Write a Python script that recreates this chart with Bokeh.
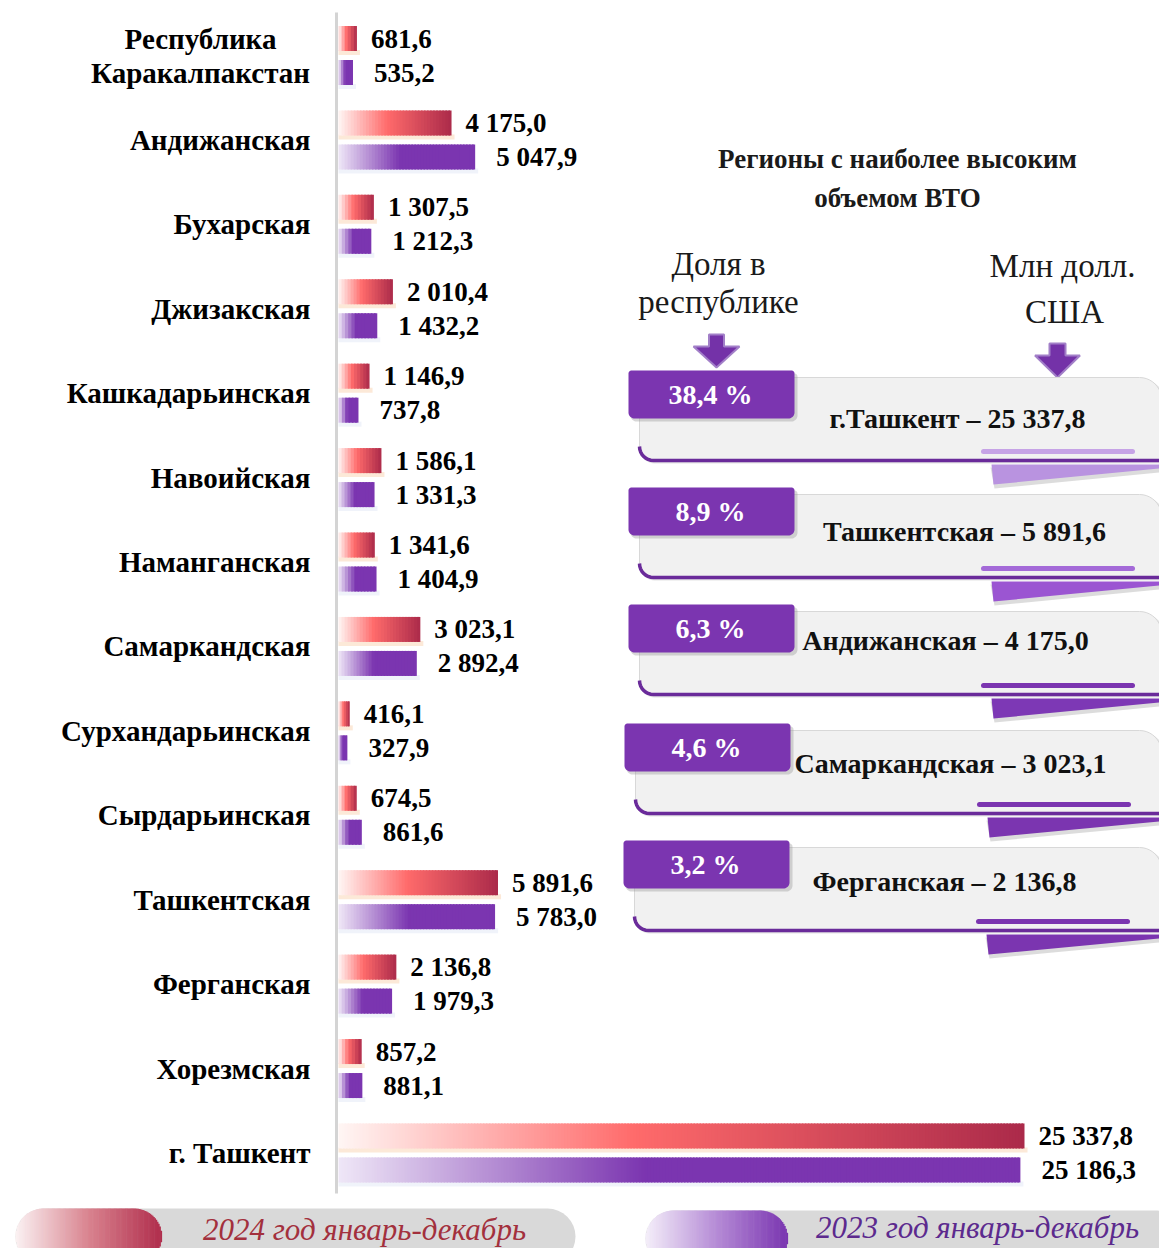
import math
from bokeh.plotting import figure
from bokeh.models import Range1d, ColumnDataSource
from bokeh.core.properties import value
from bokeh.embed import file_html
from bokeh.resources import INLINE

# ---------------- data ----------------
regions = ["Республика\nКаракалпакстан", "Андижанская", "Бухарская", "Джизакская",
           "Кашкадарьинская", "Навоийская", "Наманганская", "Самаркандская",
           "Сурхандарьинская", "Сырдарьинская", "Ташкентская", "Ферганская",
           "Хорезмская", "г. Ташкент"]
v2024 = [681.6, 4175.0, 1307.5, 2010.4, 1146.9, 1586.1, 1341.6, 3023.1,
         416.1, 674.5, 5891.6, 2136.8, 857.2, 25337.8]
v2023 = [535.2, 5047.9, 1212.3, 1432.2, 737.8, 1331.3, 1404.9, 2892.4,
         327.9, 861.6, 5783.0, 1979.3, 881.1, 25186.3]

top_regions = ["г.Ташкент", "Ташкентская", "Андижанская", "Самаркандская", "Ферганская"]
top_values = [25337.8, 5891.6, 4175.0, 3023.1, 2136.8]
top_shares = [38.4, 8.9, 6.3, 4.6, 3.2]

panel_title = ["Регионы с наиболее высоким", "объемом ВТО"]
share_header = ["Доля в", "республике"]
value_header = ["Млн долл.", "США"]
legend_labels = ["2024 год январь-декабрь", "2023 год январь-декабрь"]


def fmt(v):
    return f"{v:,.1f}".replace(",", " ").replace(".", ",")


# ---------------- layout ----------------
W, H = 1159, 1248
FONT = value("Liberation Serif")


def X(r):
    return r


def Y(r):
    return r


ZERO = X(338)
PPU = 686.0 / 25337.8  # pixels per value unit

p = figure(width=W, height=H,
           x_range=Range1d(-ZERO / PPU, (W - ZERO) / PPU),
           y_range=Range1d(H, 0),
           output_backend="svg", toolbar_location=None, min_border=0,
           x_axis_location=None, y_axis_location=None,
           outline_line_color=None, background_fill_color="white",
           border_fill_color="white")
p.grid.visible = False
p.extra_x_ranges = {"px": Range1d(0, W)}


def hex2rgb(h):
    h = h.lstrip("#")
    return tuple(int(h[i:i + 2], 16) for i in (0, 2, 4))


def grad(stops, t):
    for (p0, c0), (p1, c1) in zip(stops[:-1], stops[1:]):
        if t <= p1:
            u = (t - p0) / (p1 - p0) if p1 > p0 else 0
            a, b = hex2rgb(c0), hex2rgb(c1)
            return "#%02x%02x%02x" % tuple(int(round(a[k] + (b[k] - a[k]) * u)) for k in range(3))
    return stops[-1][1]


RED = [(0, "#fff6f4"), (0.43, "#ff6b6b"), (1, "#ab2a4a")]
PUR = [(0, "#efe7f7"), (0.45, "#7b35b0"), (1, "#7b35b0")]

ROW0, ROWSTEP = 55.0, 84.42
rows = [ROW0 + ROWSTEP * i for i in range(len(regions))]
HALF = 12.5
DY = 17


def bar_slices(vals, ycs, stops):
    L, R, T, B, C = [], [], [], [], []
    for v, yc in zip(vals, ycs):
        n = max(6, int(v * PPU / 3))
        for j in range(n):
            L.append(v * j / n)
            R.append(min(v, v * (j + 1.5) / n))
            T.append(Y(yc - HALF))
            B.append(Y(yc + HALF))
            C.append(grad(stops, (j + 0.5) / n))
    return dict(left=L, right=R, top=T, bottom=B, color=C)


# axis line
p.segment(x0=[X(336)], y0=[Y(12)], x1=[X(336)], y1=[Y(1193)],
          line_color="#d4d4d4", line_width=3, x_range_name="px")

red_y = [r - DY for r in rows]
pur_y = [r + DY for r in rows]

# soft shadows under bars
p.quad(left=[0] * len(v2024), right=[v + 3 / PPU for v in v2024],
       top=[Y(y + HALF - 1) for y in red_y], bottom=[Y(y + HALF + 4) for y in red_y],
       fill_color="#fbe0c8", fill_alpha=0.7, line_color=None)
p.quad(left=[0] * len(v2023), right=[v + 3 / PPU for v in v2023],
       top=[Y(y + HALF - 1) for y in pur_y], bottom=[Y(y + HALF + 4) for y in pur_y],
       fill_color="#eef2f9", fill_alpha=0.9, line_color=None)

p.quad(left="left", right="right", top="top", bottom="bottom", fill_color="color",
       line_color=None, source=ColumnDataSource(bar_slices(v2024, red_y, RED)))
p.quad(left="left", right="right", top="top", bottom="bottom", fill_color="color",
       line_color=None, source=ColumnDataSource(bar_slices(v2023, pur_y, PUR)))

# value labels
p.text(x=[v + 14 / PPU for v in v2024], y=[Y(y) for y in red_y], text=[fmt(v) for v in v2024],
       text_font=FONT, text_font_style="bold", text_font_size="27px",
       text_baseline="middle", text_align="left", text_color="black")
p.text(x=[v + 21 / PPU for v in v2023], y=[Y(y) for y in pur_y], text=[fmt(v) for v in v2023],
       text_font=FONT, text_font_style="bold", text_font_size="27px",
       text_baseline="middle", text_align="left", text_color="black")

# category labels (multi-line labels are split into centred lines)
LINE = 34
cx, cy, ct, ca = [], [], [], []
for r, yc in zip(regions, rows):
    parts = r.split("\n")
    for k, part in enumerate(parts):
        cx.append(X(200) if len(parts) > 1 else X(310))
        cy.append(Y(yc + (k - (len(parts) - 1) / 2) * LINE))
        ct.append(part)
        ca.append("center" if len(parts) > 1 else "right")
p.text(x="x", y="y", text="text", text_align="align", x_range_name="px",
       source=ColumnDataSource(dict(x=cx, y=cy, text=ct, align=ca)),
       text_font=FONT, text_font_style="bold", text_font_size="29px",
       text_baseline="middle", text_color="black")


# ---------------- right panel ----------------
def arc(cx, cy, r, a0, a1, n=10):
    return [(cx + r * math.cos(math.radians(a0 + (a1 - a0) * k / n)),
             cy + r * math.sin(math.radians(a0 + (a1 - a0) * k / n))) for k in range(n + 1)]


def round_rect(x0, x1, y0, y1, rtl=0, rtr=0, rbr=0, rbl=0):
    pts = []
    pts += arc(x1 - rtr, y0 + rtr, rtr, -90, 0)
    pts += arc(x1 - rbr, y1 - rbr, rbr, 0, 90)
    pts += arc(x0 + rbl, y1 - rbl, rbl, 90, 180)
    pts += arc(x0 + rtl, y0 + rtl, rtl, 180, 270)
    return [X(a) for a, b in pts], [Y(b) for a, b in pts]


# panel title & headers
p.text(x=[X(897)] * 2, y=[Y(158), Y(197)], text=panel_title, x_range_name="px",
       text_font=FONT, text_font_style="bold", text_font_size="27px",
       text_align="center", text_baseline="middle", text_color="#1a1a1a")
p.text(x=[X(718)] * 2, y=[Y(263), Y(301)], text=share_header, x_range_name="px",
       text_font=FONT, text_font_size="33px",
       text_align="center", text_baseline="middle", text_color="#1a1a1a")
p.text(x=[X(1062), X(1064)], y=[Y(265), Y(311)], text=value_header, x_range_name="px",
       text_font=FONT, text_font_size="33px",
       text_align="center", text_baseline="middle", text_color="#1a1a1a")


def arrow(cx, top, sw, hw, sh, hh):
    pts = [(cx - sw / 2, top), (cx + sw / 2, top), (cx + sw / 2, top + sh), (cx + hw / 2, top + sh),
           (cx, top + sh + hh), (cx - hw / 2, top + sh), (cx - sw / 2, top + sh)]
    return [X(a) for a, b in pts], [Y(b) for a, b in pts]


ax1, ay1 = arrow(716, 334, 15, 46, 12, 21)
ax2, ay2 = arrow(1057, 343, 16, 45, 12, 22)
p.patches(xs=[ax1, ax2], ys=[ay1, ay2], fill_color="#7432a8", line_color="#a27fc8",
          line_width=2, x_range_name="px")

# ribbons
rib_L = [628, 628, 628, 624, 623]
rib_T = [370, 487, 604, 723, 840]
rib_text_x = [957, 964, 945, 950, 944]
rib_text_y = [418, 531, 640, 763, 881]
fold_col = ["#b993e0", "#9b55d2", "#7d38b5", "#7b35b0", "#7b35b0"]
under_col = ["#c6a3e6", "#a46ad8", "#7b35b0", "#7b35b0", "#7b35b0"]

for i in range(len(top_regions)):
    L, T = rib_L[i], rib_T[i]
    # fold shadow and fold
    fx = [X(L + 362), X(1170), X(1170), X(L + 366)]
    p.patch(x=fx, y=[Y(T + 97), Y(T + 97), Y(T + 101), Y(T + 118)], fill_color="#9a9a9a",
            fill_alpha=0.35, line_color=None, x_range_name="px")
    p.patch(x=[X(L + 363), X(1170), X(1170), X(L + 365)],
            y=[Y(T + 94), Y(T + 94), Y(T + 97), Y(T + 114)],
            fill_color=fold_col[i], line_color=None, x_range_name="px")
    # panel shadow + panel
    sx, sy = round_rect(L + 12, 1164, T + 9, T + 93, 0, 22, 0, 14)
    p.patch(x=sx, y=sy, fill_color="#c8c8c8", fill_alpha=0.5, line_color=None, x_range_name="px")
    px_, py_ = round_rect(L + 11, 1161, T + 7, T + 90, 0, 22, 0, 14)
    p.patch(x=px_, y=py_, fill_color="#f1f1f1", line_color="#d8d8d8", line_width=1,
            x_range_name="px")
    # purple bottom edge
    edge = arc(L + 25, T + 76, 14, 180, 90, 8)
    ex = [X(a) for a, b in edge] + [X(1172)]
    ey = [Y(b) for a, b in edge] + [Y(T + 90)]
    p.line(x=ex, y=ey, line_color="#6a2b9a", line_width=3.5, x_range_name="px")
    # underline
    p.line(x=[X(L + 355), X(L + 504)], y=[Y(T + 81)] * 2, line_color=under_col[i],
           line_width=5, line_cap="round", x_range_name="px")
    # tab shadow + tab
    tx, ty = round_rect(L + 2, L + 169, T + 3, T + 51, 3, 3, 6, 6)
    p.patch(x=tx, y=ty, fill_color="#9c9c9c", fill_alpha=0.4, line_color=None, x_range_name="px")
    tx, ty = round_rect(L, L + 166, T, T + 48, 3, 3, 6, 6)
    p.patch(x=tx, y=ty, fill_color="#7b35b0", line_color=None, x_range_name="px")

p.text(x=[X(L + 82) for L in rib_L], y=[Y(T + 24) for T in rib_T],
       text=[f"{s:.1f}".replace(".", ",") + " %" for s in top_shares], x_range_name="px",
       text_font=FONT, text_font_style="bold", text_font_size="28px",
       text_align="center", text_baseline="middle", text_color="white")
p.text(x=[X(v) for v in rib_text_x], y=[Y(v) for v in rib_text_y],
       text=[f"{r} – {fmt(v)}" for r, v in zip(top_regions, top_values)], x_range_name="px",
       text_font=FONT, text_font_style="bold", text_font_size="28px",
       text_align="center", text_baseline="middle", text_color="#111111")


# ---------------- legend ----------------
def pill(x0, x1, yc, h, n=16):
    r = h / 2
    pts = arc(x1 - r, yc, r, -90, 90, n) + arc(x0 + r, yc, r, 90, 270, n)
    return [X(a) for a, b in pts], [Y(b) for a, b in pts]


def pill_grad(x0, x1, yc, h, stops, n=120):
    r = h / 2
    L, R, T, B, C = [], [], [], [], []
    for j in range(n):
        a = x0 + (x1 - x0) * j / n
        b = x0 + (x1 - x0) * (j + 1) / n
        m = (a + b) / 2
        if m < x0 + r:
            hh = math.sqrt(max(0.0, r * r - (x0 + r - m) ** 2))
        elif m > x1 - r:
            hh = math.sqrt(max(0.0, r * r - (m - (x1 - r)) ** 2))
        else:
            hh = r
        L.append(X(a)); R.append(X(b + 0.6)); T.append(Y(yc - hh)); B.append(Y(yc + hh))
        C.append(grad(stops, (j + 0.5) / n))
    return dict(left=L, right=R, top=T, bottom=B, color=C)


leg = [dict(x0=15, x1=575, cap=161, yc=1236, stops=[(0, "#fbf2f3"), (0.5, "#d9838f"), (1, "#b02d4c")],
            tx=364, ty=1229, col="#a3303d"),
       dict(x0=645, x1=1185, cap=787, yc=1238, stops=[(0, "#f5effa"), (0.5, "#b58bd6"), (1, "#7a35b0")],
            tx=977, ty=1227, col="#5c2a8e")]
for d, lab in zip(leg, legend_labels):
    gx, gy = pill(d["x0"], d["x1"], d["yc"], 56)
    p.patch(x=gx, y=gy, fill_color="#d9d9d9", line_color=None, x_range_name="px")
    p.quad(left="left", right="right", top="top", bottom="bottom", fill_color="color",
           line_color=None, x_range_name="px",
           source=ColumnDataSource(pill_grad(d["x0"], d["cap"], d["yc"], 56, d["stops"])))
    p.text(x=[X(d["tx"])], y=[Y(d["ty"])], text=[lab], x_range_name="px",
           text_font=FONT, text_font_style="italic", text_font_size="31px",
           text_align="center", text_baseline="middle", text_color=d["col"])

open("out.html", "w").write(file_html(p, INLINE))
